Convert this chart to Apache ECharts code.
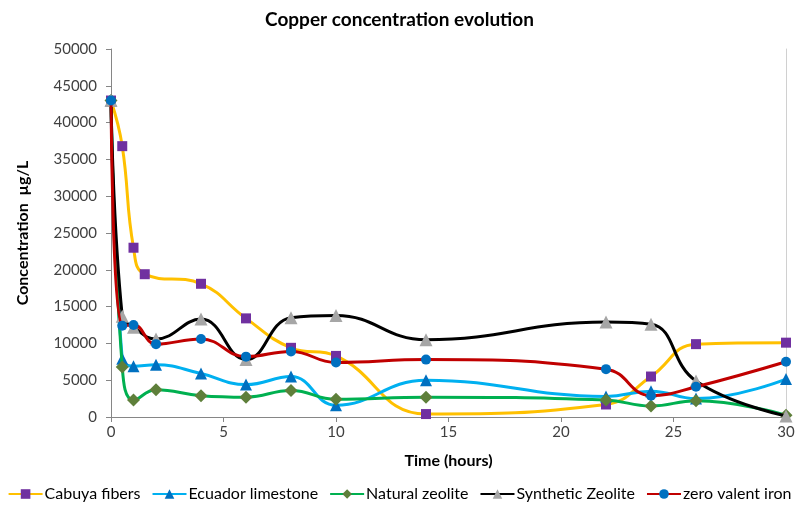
<!DOCTYPE html>
<html><head><meta charset="utf-8">
<script src="https://cdn.jsdelivr.net/npm/echarts@6/dist/echarts.min.js"></script>
<style>html,body{margin:0;padding:0;background:#fff}#c{width:799px;height:510px}</style>
</head><body><div id="c"></div>
<script>
const seriesNames = ["Cabuya fibers","Ecuador limestone","Natural zeolite","Synthetic Zeolite","zero valent iron"];
const cabuyaTime = [0,0.5,1,1.5,4,6,8,10,14,22,24,26,30];
const cabuya     = [43000,36800,23000,19400,18100,13400,9400,8300,400,1700,5500,9900,10100];
const commonTime = [0,0.5,1,2,4,6,8,10,14,22,24,26,30];
const limestone  = [43000,7900,6900,7100,5900,4400,5500,1600,5000,2800,3500,2500,5150];
const natZeolite = [43000,6800,2300,3700,2900,2700,3600,2400,2700,2300,1500,2200,250];
const synZeolite = [43000,13700,12200,10600,13300,7800,13500,13800,10500,12900,12600,4900,150];
const zvIron     = [43000,12400,12500,9900,10600,8200,8900,7400,7800,6500,2900,4100,7500];
const xTicks = [0,5,10,15,20,25,30];
const yTicks = [0,5000,10000,15000,20000,25000,30000,35000,40000,45000,50000];

const pair = (t, v) => t.map((x, i) => [x, v[i]]);
const font = 'Lato, "Open Sans", sans-serif';
const styles = [
  {line:'#FFC000', mk:'#7030A0', sym:'rect', size:10},
  {line:'#00B0F0', mk:'#0070C0', sym:'triangle', size:12},
  {line:'#00B050', mk:'#5E7F3A', sym:'diamond', size:13},
  {line:'#000000', mk:'#A6A6A6', sym:'triangle', size:13},
  {line:'#C00000', mk:'#0070C0', sym:'circle', size:10}
];
const data = [pair(cabuyaTime,cabuya), pair(commonTime,limestone), pair(commonTime,natZeolite), pair(commonTime,synZeolite), pair(commonTime,zvIron)];

const chart = echarts.init(document.getElementById('c'), null, {renderer:'canvas'});
chart.setOption({
  animation:false,
  title:{text:'Copper concentration evolution', left:'center', top:5,
    textStyle:{fontFamily:font, fontSize:19, fontWeight:'bold', color:'#000'}},
  grid:{left:111, right:13, top:49, bottom:93},
  legend:{bottom:8, left:'center', width:799, padding:0, itemGap:11, itemWidth:34, itemHeight:12,
    textStyle:{fontFamily:font, fontSize:16, color:'#000', padding:[0,0,0,-3]},
    data:seriesNames},
  xAxis:{type:'value', min:0, max:30, interval:5,
    name:'Time (hours)', nameLocation:'middle', nameGap:36,
    nameTextStyle:{fontFamily:font, fontSize:16, fontWeight:'bold', color:'#000'},
    axisLine:{lineStyle:{color:'#868686'}}, axisTick:{show:true, length:5, lineStyle:{color:'#868686'}},
    axisLabel:{fontFamily:font, fontSize:15, color:'#404040', margin:8,
      formatter: v => xTicks.includes(v) ? String(v) : ''},
    splitLine:{show:false}},
  yAxis:[{type:'value', min:0, max:50000, interval:5000,
    name:'Concentration  µg/L', nameLocation:'middle', nameGap:80, nameRotate:90,
    nameTextStyle:{fontFamily:font, fontSize:16, fontWeight:'bold', color:'#000'},
    axisLine:{show:true, lineStyle:{color:'#868686'}}, axisTick:{show:true, length:5, lineStyle:{color:'#868686'}},
    axisLabel:{fontFamily:font, fontSize:15, color:'#404040', margin:14,
      formatter: v => yTicks.includes(v) ? String(v) : ''},
    splitLine:{show:false}},
    {type:'value', min:0, max:50000, position:'right', axisLine:{show:true, lineStyle:{color:'#d0d0d0'}},
     axisTick:{show:false}, axisLabel:{show:false}, splitLine:{show:false}}],
  series: seriesNames.map((n, i) => ({
    name:n, type:'line', smooth:0.45, data:data[i], yAxisIndex:0,
    symbol:styles[i].sym, symbolSize:styles[i].size,
    lineStyle:{color:styles[i].line, width:3},
    itemStyle:{color:styles[i].mk, borderWidth:0},
    z: 2 + i
  }))
});
</script></body></html>
